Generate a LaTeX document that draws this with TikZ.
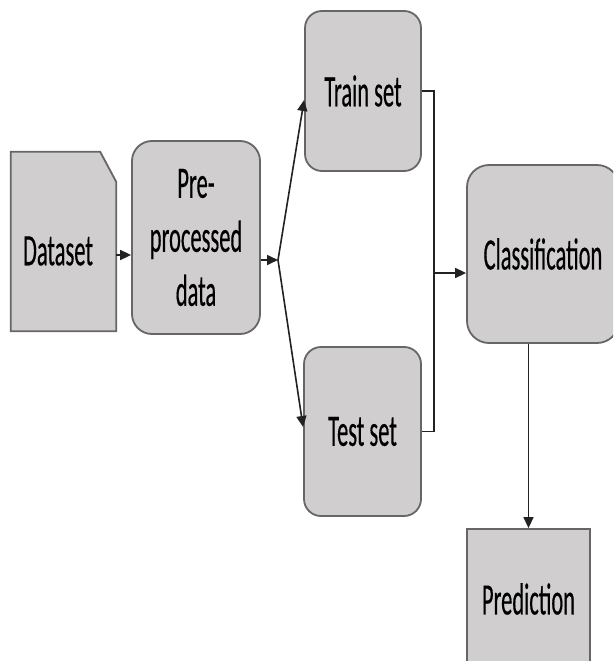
\documentclass[tikz,border=0pt]{standalone}
\usepackage{fontspec}
\setmainfont{Carlito}[FakeStretch=0.5,FakeBold=0.3]
\usetikzlibrary{arrows.meta}
\definecolor{boxfill}{HTML}{D0CECE}
\definecolor{boxline}{HTML}{666666}
\definecolor{linkcol}{HTML}{222222}
\tikzset{
  box/.style={draw=boxline, fill=boxfill, line width=1.8pt, rounded corners=20pt,
    align=center, inner sep=0pt, font=\fontsize{45}{54}\selectfont},
  sqbox/.style={box, rounded corners=0pt},
  ghost/.style={inner sep=0pt, font=\fontsize{45}{54}\selectfont},
  arr/.style={draw=linkcol, line width=1.6pt, -{Triangle[length=11pt,width=10pt]}},
  link/.style={draw=linkcol, line width=1.5pt}
}
\begin{document}
\begin{tikzpicture}[x=1pt,y=-1pt]
\useasboundingbox (0,0) rectangle (613,661);
\clip (0,0) rectangle (613,661);
% Dataset (document shape with cut corner)
\node[ghost, minimum width=105pt, minimum height=179pt] (dataset) at (63.5,241.5) {};
\draw[draw=boxline, fill=boxfill, line width=1.8pt]
  (dataset.north west) -- ([xshift=-16pt]dataset.north east) -- ([yshift=-30pt]dataset.north east)
  -- (dataset.south east) -- (dataset.south west) -- cycle;
\node[ghost] (datasettext) at (58,251) {Dataset};
% boxes
\node[box, minimum width=128pt, minimum height=193pt] (pre) at (196,237.5) {Pre-\\processed\\data};
\node[box, rounded corners=17pt, minimum width=116pt, minimum height=160pt] (train) at (363,91) {Train set};
\node[box, rounded corners=17pt, minimum width=117pt, minimum height=169pt] (test) at (362.5,431.5) {Test set};
\node[box, rounded corners=22pt, minimum width=152pt, minimum height=178pt] (class) at (543,254) {Classification};
\node[sqbox, minimum width=123pt, minimum height=140pt] (pred) at (528.5,599) {Prediction};
% connectors
\draw[arr] ([yshift=-13.5pt]dataset.east) -- ([yshift=-13.5pt]dataset.east -| pre.west);
\coordinate (split) at (278,260);
\draw[arr] (pre.east |- split) -- (split);
\draw[arr] (split) -- ([yshift=-9pt]train.west);
\draw[arr] (split) -- ([yshift=4.5pt]test.west);
\coordinate (merge) at (434,273);
\draw[link] (train.east) -| (merge);
\draw[link] (test.east) -| (merge);
\draw[arr] (merge) -- (merge -| class.west);
\draw[arr] (pred.north |- class.south) -- (pred.north);
\end{tikzpicture}
\end{document}
